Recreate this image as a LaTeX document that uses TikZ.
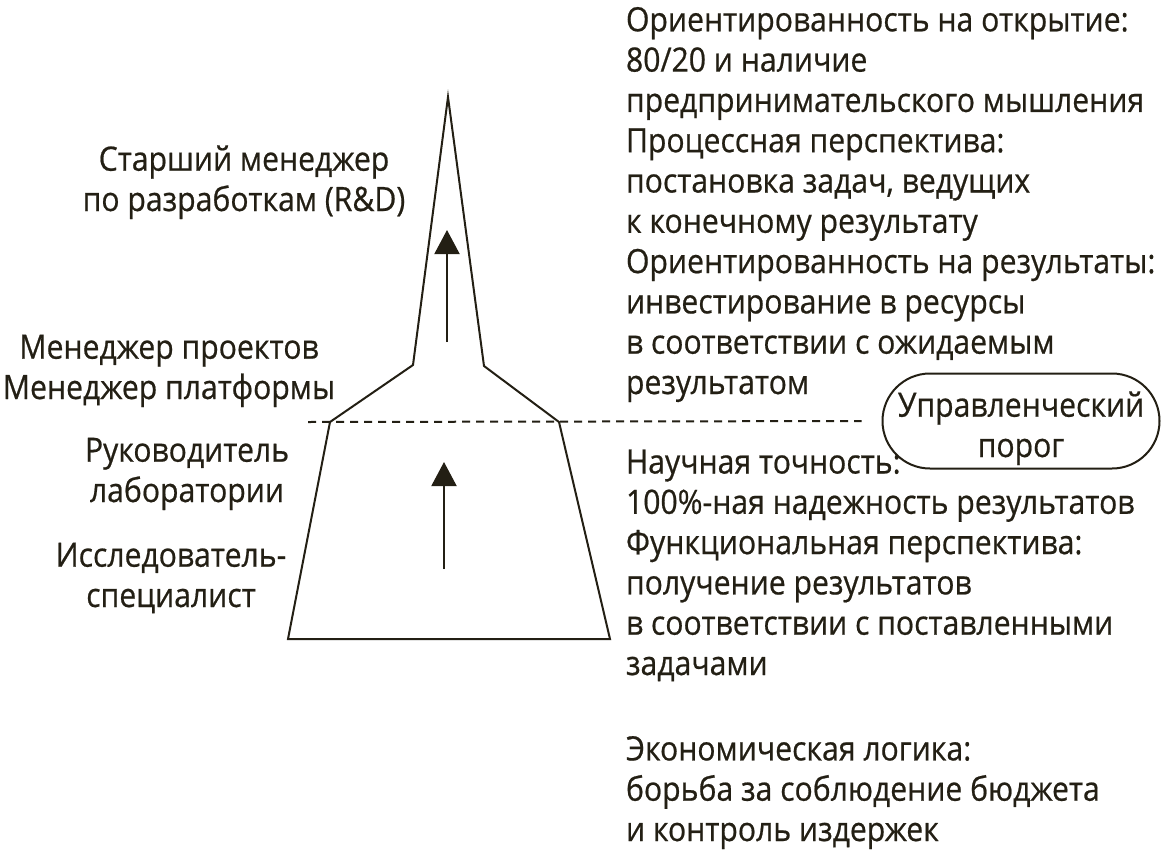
\documentclass[tikz,border=0pt]{standalone}
\usepackage{fontspec}
\setmainfont{Open Sans}[FakeStretch=0.9,FakeBold=0.6]
\usetikzlibrary{arrows.meta}
\definecolor{ink}{RGB}{35,31,20}
\newcommand\diafont{\fontsize{33.5}{40.3}\selectfont}
\begin{document}
\begin{tikzpicture}[x=1pt,y=-1pt,line width=2pt,draw=ink,
  lbl/.style={font=\diafont,text=ink,inner sep=0pt,align=center,anchor=base},
  txt/.style={font=\diafont,text=ink,inner sep=0pt,align=left,anchor=base west},
  thrbox/.style={draw=ink,line width=2pt,rounded corners=47.5pt,minimum width=277pt,minimum height=95pt,inner sep=0pt},
  uparrow/.style={-{Triangle[width=25pt,length=24pt]},line width=2pt,draw=ink,fill=ink}]
\useasboundingbox (0,0) rectangle (1165,854);
% pyramid
\draw[ink,line join=miter] (288,639) -- (330,422) -- (413,365) -- (448,97) -- (484,366) -- (559,422) -- (610,639) -- cycle;
% threshold box
\node[thrbox] (thr) at (1021,421) {};
\node[lbl] (thrtxt) at (1021,457) {Управленческий\\порог};
% dashed line
\coordinate (dl) at (308,422);
\draw[ink,dash pattern=on 8pt off 6pt,shorten >=20pt] (dl) -- (thr.west);
% arrows
\coordinate (a1s) at (447,342);
\coordinate (a1e) at (447,230);
\draw[uparrow] (a1s) -- (a1e);
\coordinate (a2s) at (444,569);
\coordinate (a2e) at (444,462);
\draw[uparrow] (a2s) -- (a2e);
% left labels (anchor = baseline of last line)
\node[lbl] (srm) at (244,211) {Старший менеджер\\по разработкам (R\&D)};
\node[lbl] (mp) at (169,399) {Менеджер проектов\\Менеджер платформы};
\node[lbl] (rl) at (187,502) {Руководитель\\лаборатории};
\node[lbl] (is) at (171,607) {Исследователь-\\специалист};
% right texts
\node[txt] (t1) at (625,394) {Ориентированность на открытие:\\80/20 и наличие\\предпринимательского мышления\\Процессная перспектива:\\постановка задач, ведущих\\к конечному результату\\Ориентированность на результаты:\\инвестирование в ресурсы\\в соответствии с ожидаемым\\результатом};
\node[txt] (t2) at (625,675) {Научная точность:\\100\%-ная надежность результатов\\Функциональная перспектива:\\получение результатов\\в соответствии с поставленными\\задачами};
\node[txt] (t3) at (625,841) {Экономическая логика:\\борьба за соблюдение бюджета\\и контроль издержек};
\end{tikzpicture}
\end{document}
